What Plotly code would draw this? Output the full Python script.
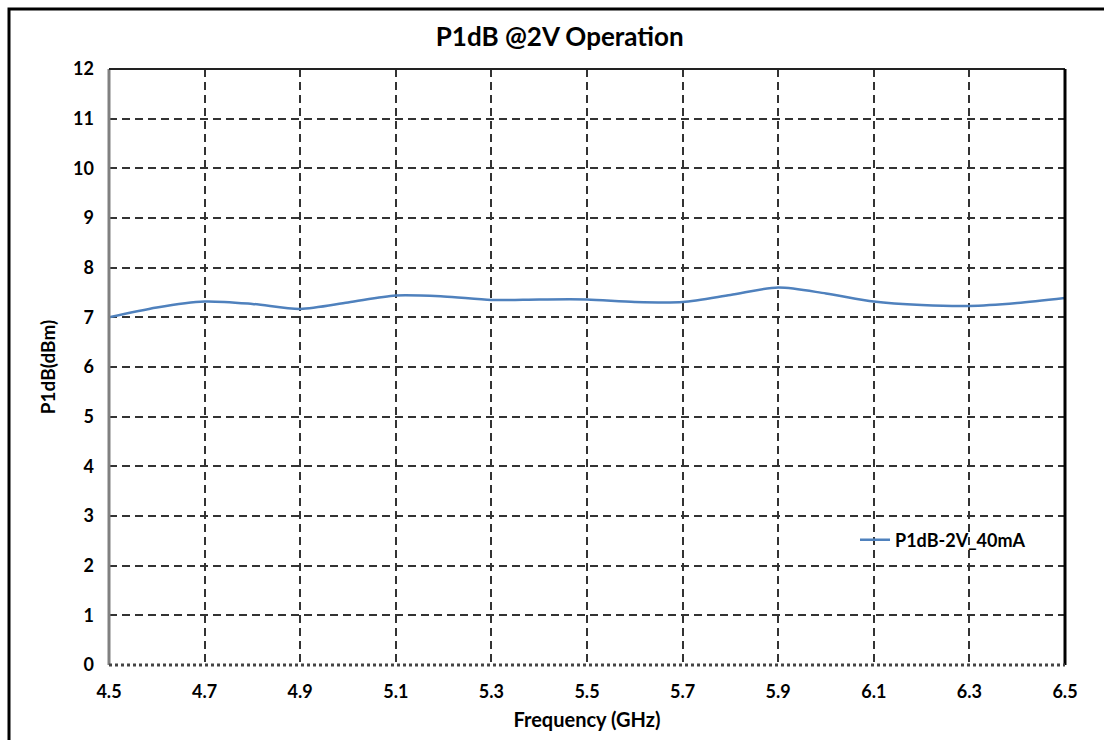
import plotly.graph_objects as go

freq = [4.5, 4.6, 4.7, 4.8, 4.9, 5.0, 5.1, 5.2, 5.3, 5.4, 5.5, 5.6, 5.7, 5.8, 5.9, 6.0, 6.1, 6.2, 6.3, 6.4, 6.5]
p1db = [7.00, 7.20, 7.32, 7.27, 7.17, 7.30, 7.44, 7.42, 7.35, 7.36, 7.36, 7.31, 7.31, 7.45, 7.60, 7.48, 7.32, 7.25, 7.23, 7.29, 7.39]
series_name = "P1dB-2V_40mA"
x_ticks = [4.5, 4.7, 4.9, 5.1, 5.3, 5.5, 5.7, 5.9, 6.1, 6.3, 6.5]
y_ticks = list(range(0, 13))

FONT = "Lato, 'Open Sans', sans-serif"

fig = go.Figure()
fig.add_trace(go.Scatter(
    x=freq, y=p1db, mode="lines", name=f"<b>{series_name}</b>",
    line=dict(color="#4F81BD", width=2.5, shape="spline", smoothing=0.8),
))

W, H = 1104, 740
L, R, T, B = 109, 39, 69, 75
pw, ph = W - L - R, H - T - B

fig.update_layout(
    width=W, height=H,
    margin=dict(l=L, r=R, t=T, b=B),
    paper_bgcolor="white", plot_bgcolor="white",
    font=dict(family=FONT, color="black"),
    title=dict(text="<b>P1dB @2V Operation</b>", x=0.507, xanchor="center",
               y=1 - 37 / H, yanchor="middle", font=dict(size=26, family=FONT)),
    showlegend=True,
    legend=dict(x=(855 - L) / pw, y=(665 - 540) / ph, xanchor="left", yanchor="middle",
                bgcolor="rgba(0,0,0,0)", font=dict(size=18, family=FONT),
                itemwidth=30),
    xaxis=dict(range=[4.5, 6.5], tickvals=x_ticks, ticktext=[f"<b>{v:.1f}</b>" for v in x_ticks],
               showgrid=True, gridcolor="#333333", gridwidth=1.5, griddash="8px,5px",
               zeroline=False, showline=False, ticks="", tickfont=dict(size=18, family=FONT),
               ticklabelstandoff=14,
               title=dict(text="<b>Frequency (GHz)</b>", font=dict(size=20, family=FONT), standoff=11)),
    yaxis=dict(range=[0, 12], tickvals=y_ticks, ticktext=[f"<b>{v}</b>" for v in y_ticks],
               showgrid=True, gridcolor="#333333", gridwidth=1.5, griddash="8px,5px",
               zeroline=False, showline=False, ticks="", tickfont=dict(size=18, family=FONT),
               ticklabelstandoff=14,
               title=dict(text="<b>P1dB(dBm)</b>", font=dict(size=19, family=FONT), standoff=12)),
)

# plot area borders
fig.add_shape(type="line", xref="paper", yref="paper", x0=0, x1=0, y0=0, y1=1,
              line=dict(color="#808080", width=3))
fig.add_shape(type="line", xref="paper", yref="paper", x0=0, x1=1, y0=1, y1=1,
              line=dict(color="#222222", width=2))
fig.add_shape(type="line", xref="paper", yref="paper", x0=1, x1=1, y0=0, y1=1,
              line=dict(color="black", width=3))
fig.add_shape(type="line", xref="paper", yref="paper", x0=0, x1=1, y0=0, y1=0,
              line=dict(color="#444444", width=3, dash="dot"))

# outer chart frame
fig.add_shape(type="rect", xref="paper", yref="paper",
              x0=(9 - L) / pw, x1=(W + 20 - L) / pw,
              y0=-(H + 20 - (T + ph)) / ph, y1=1 + (T - 9) / ph,
              line=dict(color="black", width=3), fillcolor="rgba(0,0,0,0)", layer="above")

fig.write_html("out.html")
